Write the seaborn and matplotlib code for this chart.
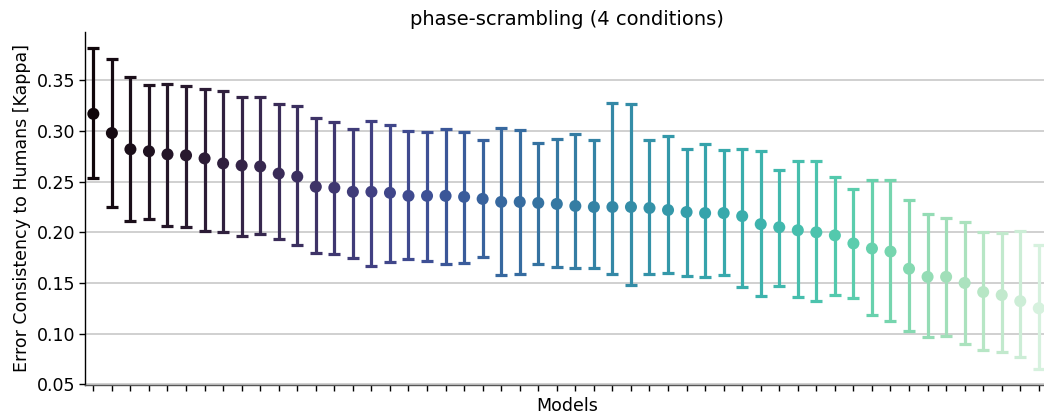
import numpy as np
import pandas as pd
import matplotlib
matplotlib.use('Agg')
import matplotlib.pyplot as plt
import seaborn as sns

# Error consistency (kappa) per model, sorted, with lower/upper bounds
kappa_mean = [0.317, 0.298, 0.282, 0.280, 0.277, 0.276, 0.273, 0.268, 0.266, 0.265,
              0.258, 0.255, 0.245, 0.244, 0.240, 0.240, 0.239, 0.236, 0.236, 0.236,
              0.235, 0.233, 0.230, 0.230, 0.229, 0.228, 0.226, 0.225, 0.225, 0.225,
              0.224, 0.222, 0.220, 0.219, 0.219, 0.216, 0.208, 0.205, 0.202, 0.200,
              0.197, 0.189, 0.184, 0.181, 0.164, 0.156, 0.156, 0.150, 0.141, 0.138,
              0.132, 0.125]
kappa_upper = [0.382, 0.371, 0.353, 0.345, 0.346, 0.344, 0.342, 0.340, 0.334, 0.334,
               0.327, 0.325, 0.313, 0.309, 0.302, 0.310, 0.306, 0.300, 0.299, 0.302,
               0.299, 0.291, 0.303, 0.301, 0.288, 0.292, 0.297, 0.291, 0.328, 0.327,
               0.291, 0.295, 0.282, 0.287, 0.281, 0.282, 0.280, 0.262, 0.270, 0.270,
               0.255, 0.243, 0.252, 0.252, 0.232, 0.218, 0.214, 0.210, 0.200, 0.199,
               0.201, 0.187]
kappa_lower = [0.254, 0.225, 0.211, 0.213, 0.206, 0.205, 0.201, 0.200, 0.196, 0.198,
               0.193, 0.187, 0.180, 0.179, 0.175, 0.167, 0.171, 0.174, 0.172, 0.169,
               0.170, 0.176, 0.158, 0.159, 0.169, 0.166, 0.165, 0.165, 0.159, 0.148,
               0.159, 0.160, 0.157, 0.156, 0.158, 0.146, 0.137, 0.147, 0.136, 0.132,
               0.138, 0.135, 0.118, 0.112, 0.103, 0.097, 0.098, 0.090, 0.084, 0.082,
               0.077, 0.065]
models = [f"model_{i:02d}" for i in range(len(kappa_mean))]

df = pd.DataFrame({'model': models, 'kappa': kappa_mean,
                   'low': kappa_lower, 'high': kappa_upper})
df['pos'] = np.arange(len(df))

sns.set_style("white")
plt.rcParams['font.family'] = ['DejaVu Sans']
plt.rcParams['text.color'] = 'black'
plt.rcParams['axes.labelcolor'] = 'black'
plt.rcParams['xtick.color'] = 'black'
plt.rcParams['ytick.color'] = 'black'

fig = plt.figure(figsize=(10.44, 4.19), dpi=100)
ax = fig.add_axes([85 / 1044, 34 / 419, (1049 - 85) / 1044, (386 - 33) / 419])

palette = sns.color_palette("mako", len(df))

ax.grid(axis='y', color='#c8c8c8', linewidth=1.2, zorder=0)
ax.set_axisbelow(True)

# Error bars with caps
for i, row in df.iterrows():
    ax.errorbar(row['pos'], row['kappa'],
                yerr=[[row['kappa'] - row['low']], [row['high'] - row['kappa']]],
                fmt='none', ecolor=palette[i], elinewidth=2.3,
                capsize=4, capthick=2.3, zorder=2)

sns.scatterplot(data=df, x='pos', y='kappa', hue='model', palette=palette,
                legend=False, s=75, edgecolor='none', zorder=3, ax=ax)

ax.set_xlim(-0.45, len(df) - 0.45)
ax.set_ylim(0.0492, 0.3978)
ax.set_xticks(df['pos'])
ax.set_xticklabels([])
ax.set_yticks([0.05, 0.10, 0.15, 0.20, 0.25, 0.30, 0.35])
ax.set_yticklabels([f"{v:.2f}" for v in [0.05, 0.10, 0.15, 0.20, 0.25, 0.30, 0.35]])
ax.tick_params(axis='both', which='both', direction='out', length=4, width=1,
               color='black', labelcolor='black', labelsize=12.5,
               bottom=True, left=True)
ax.tick_params(axis='y', pad=3)

sns.despine(ax=ax)
ax.spines['left'].set_color('black')
ax.spines['bottom'].set_color('#555555')
ax.spines['left'].set_linewidth(1.0)
ax.spines['bottom'].set_linewidth(1.0)

ax.set_xlabel('Models', fontsize=12.5, labelpad=1, color='black')
ax.set_ylabel('Error Consistency to Humans [Kappa]', fontsize=12.5, labelpad=4,
              color='black')
ax.set_title('phase-scrambling (4 conditions)', fontsize=14, pad=5, color='black')

fig.savefig('out.png', dpi=100)
